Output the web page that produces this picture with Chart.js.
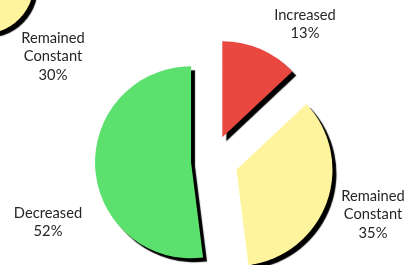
<!DOCTYPE html>
<html><head><meta charset="utf-8">
<script src="https://cdn.jsdelivr.net/npm/chart.js@4/dist/chart.umd.min.js"></script>
<style>
html,body{margin:0;padding:0;background:#fff;overflow:hidden;width:408px;height:265px;}
#wrap{position:relative;width:408px;height:265px;overflow:hidden;}
#main{position:absolute;left:0;top:0;}
#side{position:absolute;left:-77px;top:-77px;}
</style></head><body>
<div id="wrap">
<canvas id="side" width="120" height="120"></canvas>
<canvas id="main" width="408" height="265"></canvas>
</div>
<script>
// ---- data ----
const categories = ['Increased', 'Remained Constant', 'Decreased'];
const shares = [13, 35, 52];
const neighborCategories = ['Remained Constant', 'Other'];
const neighborShares = [30, 70];

// ---- styles ----
const sliceColors = ['#E8483F', '#FFF49E', '#5CE16F'];
const explode = [26, 26, 21];
const labelFont = '14.7px Lato';
const labelColor = '#262626';
const lineH = 18.7;
const labelPos = [{x: 305, y: 15}, {x: 373, y: 196}, {x: 48, y: 213}];
const neighborLabelPos = {x: 53, y: 38};

const shadowPlugin = {
  id: 'shadow',
  beforeDatasetsDraw(chart) {
    const c = chart.ctx; c.save();
    c.shadowColor = 'rgba(0,0,0,1)';
    c.shadowOffsetX = 4; c.shadowOffsetY = 4; c.shadowBlur = 1;
  },
  afterDatasetsDraw(chart) { chart.ctx.restore(); }
};

const explodePlugin = {
  id: 'explode',
  afterDatasetsUpdate(chart, args, opts) {
    const d = opts.dist || [];
    chart.getDatasetMeta(0).data.forEach((arc, i) => {
      const mid = (arc.startAngle + arc.endAngle) / 2;
      arc.x += Math.cos(mid) * (d[i] || 0);
      arc.y += Math.sin(mid) * (d[i] || 0);
    });
  }
};

function drawLabel(ctx, name, value, pos) {
  const words = name.split(' ');
  const lines = words.concat([value + '%']);
  lines.forEach((t, k) => ctx.fillText(t, pos.x, pos.y + k * lineH));
}

const labelPlugin = {
  id: 'sliceLabels',
  afterDraw(chart) {
    const c = chart.ctx; c.save();
    c.font = labelFont; c.fillStyle = labelColor;
    c.textAlign = 'center'; c.textBaseline = 'middle';
    categories.forEach((n, i) => drawLabel(c, n, shares[i], labelPos[i]));
    drawLabel(c, neighborCategories[0], neighborShares[0], neighborLabelPos);
    c.restore();
  }
};

new Chart(document.getElementById('side'), {
  type: 'pie',
  data: {labels: neighborCategories, datasets: [{data: neighborShares,
    backgroundColor: ['#FFF49E', 'rgba(0,0,0,0)'], borderWidth: 0}]},
  options: {responsive: false, animation: false, events: [], radius: 51, rotation: 80,
    layout: {padding: 0},
    plugins: {legend: {display: false}, tooltip: {enabled: false}}},
  plugins: [shadowPlugin]
});

new Chart(document.getElementById('main'), {
  type: 'pie',
  data: {labels: categories, datasets: [{data: shares, backgroundColor: sliceColors, borderWidth: 0}]},
  options: {responsive: false, animation: false, events: [], radius: 96,
    layout: {padding: {left: 16, top: 57, right: 0, bottom: 0}},
    plugins: {legend: {display: false}, tooltip: {enabled: false}, explode: {dist: explode}}},
  plugins: [explodePlugin, shadowPlugin, labelPlugin]
});
</script>
</body></html>
